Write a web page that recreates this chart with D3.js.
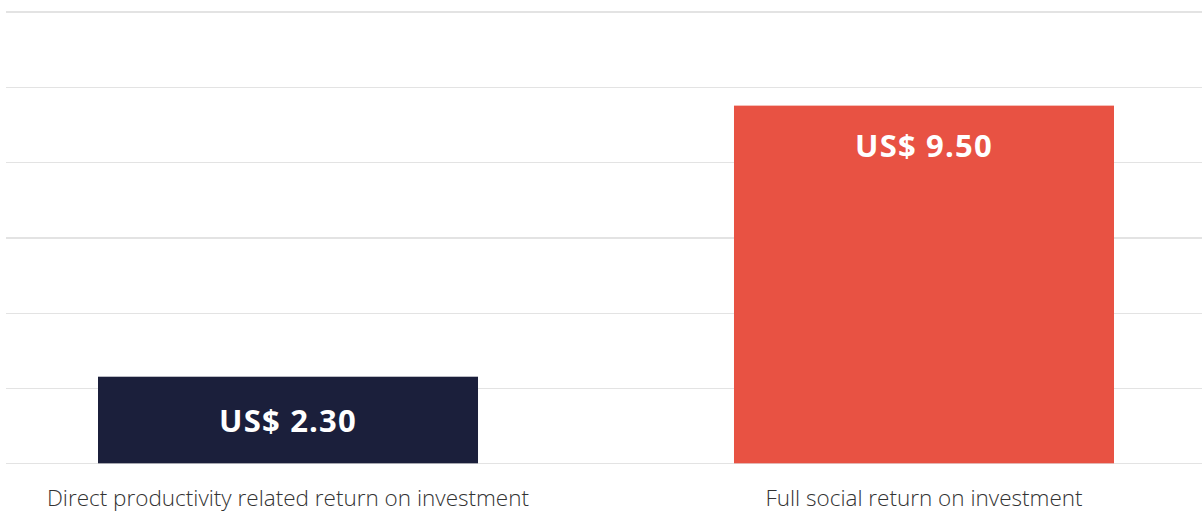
<!DOCTYPE html>
<html>
<head>
<meta charset="utf-8">
<script src="https://cdn.jsdelivr.net/npm/d3@7"></script>
<style>
  html, body { margin: 0; padding: 0; background: #fff; }
  svg { display: block; }
</style>
</head>
<body>
<svg id="chart" width="1202" height="512"></svg>
<script>
// Return on investment figures (US$ per US$ 1 invested)
const categories = ["Direct productivity related return on investment", "Full social return on investment"];
const values = [2.30, 9.50];
const valueLabels = ["US$ 2.30", "US$ 9.50"];
const barColors = ["#1b1f3b", "#e85243"];
const gridTicks = [0, 2, 4, 6, 8, 10, 12];

const svg = d3.select("#chart");

const x = d3.scaleBand()
  .domain(categories)
  .range([98, 1114])
  .paddingInner(0.4025)
  .paddingOuter(0);

const y = d3.scaleLinear()
  .domain([0, 12])
  .range([463.3, 11.5]);

// horizontal gridlines
const yAxis = d3.axisLeft(y)
  .tickValues(gridTicks)
  .tickSize(-(1202 - 6))
  .tickFormat("");

svg.append("g")
  .attr("transform", "translate(6,0)")
  .call(yAxis)
  .call(g => g.select(".domain").remove())
  .call(g => g.selectAll(".tick line")
    .attr("stroke", "#e3e3e3")
    .attr("stroke-width", 1.2)
    .attr("shape-rendering", "crispEdges"));

const data = categories.map((c, i) => ({ cat: c, value: values[i], label: valueLabels[i], color: barColors[i] }));

// bars
svg.append("g").selectAll("rect")
  .data(data)
  .join("rect")
  .attr("x", d => x(d.cat))
  .attr("y", d => y(d.value))
  .attr("width", x.bandwidth())
  .attr("height", d => y(0) - y(d.value))
  .attr("fill", d => d.color);

// value labels inside the bars
svg.append("g").selectAll("text")
  .data(data)
  .join("text")
  .attr("x", d => x(d.cat) + x.bandwidth() / 2)
  .attr("y", d => {
    const top = y(d.value), h = y(0) - top;
    return h > 120 ? top + 40 : top + h / 2 + 1;
  })
  .attr("dy", "0.36em")
  .attr("text-anchor", "middle")
  .attr("fill", "#ffffff")
  .attr("font-family", "'Open Sans', sans-serif")
  .attr("font-weight", 700)
  .attr("font-size", 31)
  .attr("letter-spacing", 1.2)
  .text(d => d.label);

// category labels
svg.append("g").selectAll("text")
  .data(data)
  .join("text")
  .attr("x", d => x(d.cat) + x.bandwidth() / 2)
  .attr("y", 506)
  .attr("text-anchor", "middle")
  .attr("fill", "#333333")
  .attr("font-family", "'Open Sans', sans-serif")
  .attr("font-weight", 300)
  .attr("font-size", 22.5)
  .text(d => d.cat);
</script>
</body>
</html>
